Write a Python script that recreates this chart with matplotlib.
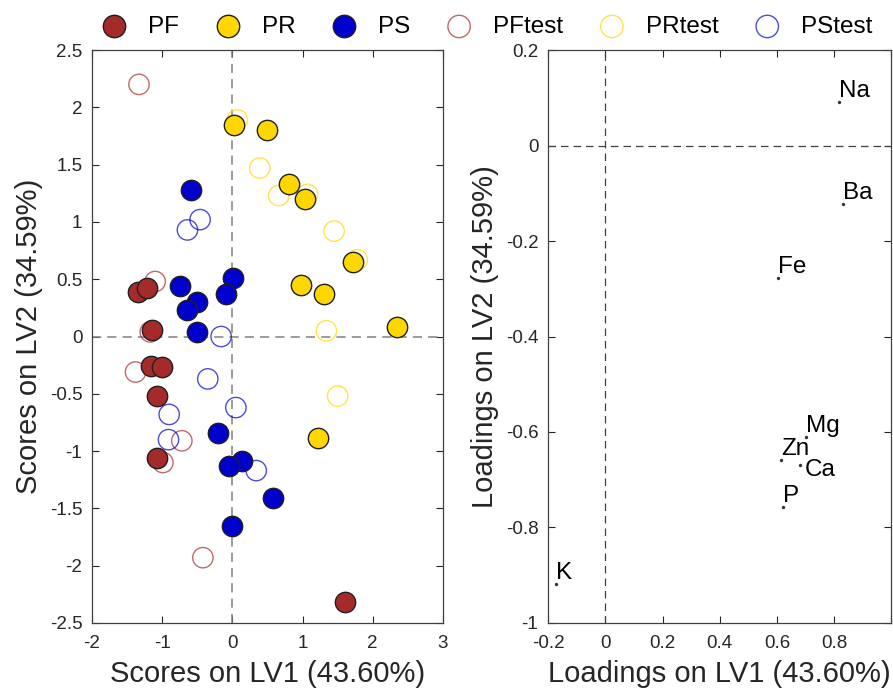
import matplotlib
matplotlib.use("Agg")
import matplotlib.pyplot as plt
from matplotlib.ticker import FixedLocator

plt.rcParams['font.family'] = ['Liberation Sans', 'DejaVu Sans']
plt.rcParams['axes.unicode_minus'] = False

# ---- Scores data ----
pf_x = [-1.35, -1.22, -1.15, -1.16, -1.00, -1.07, -1.07, 1.60]
pf_y = [0.39, 0.42, 0.06, -0.26, -0.27, -0.52, -1.06, -2.32]
pr_x = [0.02, 0.49, 0.80, 1.04, 1.72, 0.98, 1.31, 2.34, 1.22]
pr_y = [1.85, 1.80, 1.33, 1.20, 0.65, 0.45, 0.37, 0.08, -0.89]
ps_x = [-0.59, -0.75, -0.50, -0.65, 0.01, -0.09, -0.50, -0.20, 0.14, -0.05, 0.58, -0.01]
ps_y = [1.28, 0.44, 0.30, 0.23, 0.51, 0.37, 0.04, -0.84, -1.09, -1.13, -1.41, -1.65]
pft_x = [-1.33, -1.10, -1.17, -1.38, -0.72, -0.99, -0.42]
pft_y = [2.20, 0.48, 0.04, -0.31, -0.91, -1.10, -1.93]
prt_x = [0.07, 0.39, 0.66, 1.07, 1.45, 1.78, 1.34, 1.50]
prt_y = [1.89, 1.47, 1.23, 1.24, 0.92, 0.67, 0.05, -0.52]
pst_x = [-0.64, -0.46, -0.16, -0.35, 0.05, -0.90, -0.91, 0.34]
pst_y = [0.93, 1.02, 0.00, -0.37, -0.62, -0.68, -0.90, -1.17]

# ---- Loadings data ----
elements = ['Na', 'Ba', 'Fe', 'Mg', 'Zn', 'Ca', 'P', 'K']
load_x = [0.817, 0.831, 0.604, 0.703, 0.615, 0.680, 0.620, -0.172]
load_y = [0.092, -0.123, -0.278, -0.610, -0.659, -0.669, -0.757, -0.918]

score_xticks = [-2, -1, 0, 1, 2, 3]
score_yticks = [-2.5, -2, -1.5, -1, -0.5, 0, 0.5, 1, 1.5, 2, 2.5]
load_xticks = [-0.2, 0, 0.2, 0.4, 0.6, 0.8, 1.0]
load_xlabels = ['-0.2', '0', '0.2', '0.4', '0.6', '0.8', '']
load_yticks = [-1, -0.8, -0.6, -0.4, -0.2, 0, 0.2]

c_pf = '#A52A2A'
c_pr = '#FFD700'
c_ps = '#0000CD'

fig = plt.figure(figsize=(8.93, 6.88), dpi=100)
ax1 = fig.add_axes([0.103, 0.0945, 0.393, 0.8328])
ax2 = fig.add_axes([0.6137, 0.0945, 0.3846, 0.8328])

axcol = '#262626'
tickfs = 13.5
labfs = 21

S = 215
h_pft = ax1.scatter(pft_x, pft_y, s=S, facecolors='none', edgecolors=c_pf, linewidths=1.0, alpha=0.7, zorder=3)
h_prt = ax1.scatter(prt_x, prt_y, s=S, facecolors='none', edgecolors=c_pr, linewidths=1.0, alpha=0.7, zorder=3)
h_pst = ax1.scatter(pst_x, pst_y, s=S, facecolors='none', edgecolors=c_ps, linewidths=1.0, alpha=0.7, zorder=3)
h_pf = ax1.scatter(pf_x, pf_y, s=S, facecolors=c_pf, edgecolors='#202020', linewidths=1.0, zorder=4)
h_pr = ax1.scatter(pr_x, pr_y, s=S, facecolors=c_pr, edgecolors='#202020', linewidths=1.0, zorder=4)
h_ps = ax1.scatter(ps_x, ps_y, s=S, facecolors=c_ps, edgecolors='#202020', linewidths=1.0, zorder=4)

ax1.axhline(0, color='#808080', linestyle=(0, (6, 4)), linewidth=1.1, zorder=2)
ax1.axvline(0, color='#808080', linestyle=(0, (6, 4)), linewidth=1.1, zorder=2)
ax1.set_xlim(-2, 3)
ax1.set_ylim(-2.5, 2.5)
ax1.xaxis.set_major_locator(FixedLocator(score_xticks))
ax1.yaxis.set_major_locator(FixedLocator(score_yticks))
ax1.set_xticklabels(['%g' % v for v in score_xticks])
ax1.set_yticklabels(['%g' % v for v in score_yticks])
ax1.set_xlabel('Scores on LV1 (43.60%)', fontsize=labfs, color=axcol, labelpad=6)
ax1.set_ylabel('Scores on LV2 (34.59%)', fontsize=labfs, color=axcol, labelpad=5)

ax2.scatter(load_x, load_y, s=2, color='#333333', zorder=3)
# label placement: most labels sit just above-right of their point; Ca is shifted right/down
label_offsets = {'Ca': ((5, -16), 'bottom')}
for name, x, y in zip(elements, load_x, load_y):
    off, va = label_offsets.get(name, ((0, 0), 'bottom'))
    ax2.annotate(name, (x, y), xytext=off, textcoords='offset pixels',
                 fontsize=17.5, ha='left', va=va, color='black')
ax2.axhline(0, color='#404040', linestyle=(0, (6, 4)), linewidth=0.9, zorder=2)
ax2.axvline(0, color='#404040', linestyle=(0, (6, 4)), linewidth=0.9, zorder=2)
ax2.set_xlim(-0.2, 1.0)
ax2.set_ylim(-1, 0.2)
ax2.xaxis.set_major_locator(FixedLocator(load_xticks))
ax2.yaxis.set_major_locator(FixedLocator(load_yticks))
ax2.set_xticklabels(load_xlabels)
ax2.set_yticklabels(['%g' % v for v in load_yticks])
ax2.set_xlabel('Loadings on LV1 (43.60%)', fontsize=labfs, color=axcol, labelpad=6)
ax2.set_ylabel('Loadings on LV2 (34.59%)', fontsize=labfs, color=axcol, labelpad=5)

for ax in (ax1, ax2):
    ax.tick_params(direction='in', length=5, width=0.8, top=True, right=True,
                   labelsize=tickfs, colors=axcol)
    ax.tick_params(axis='x', pad=8.5)
    ax.tick_params(axis='y', pad=7)
    for sp in ax.spines.values():
        sp.set_color('#404040')
        sp.set_linewidth(0.9)

fig.legend([h_pf, h_pr, h_ps, h_pft, h_prt, h_pst],
           ['PF', 'PR', 'PS', 'PFtest', 'PRtest', 'PStest'],
           loc='center', bbox_to_anchor=(0.539, 0.961), ncol=6, frameon=False,
           fontsize=17.5, handletextpad=0.4, columnspacing=1.0, markerscale=1.1,
           scatterpoints=1)

fig.savefig('out.png', dpi=100)
